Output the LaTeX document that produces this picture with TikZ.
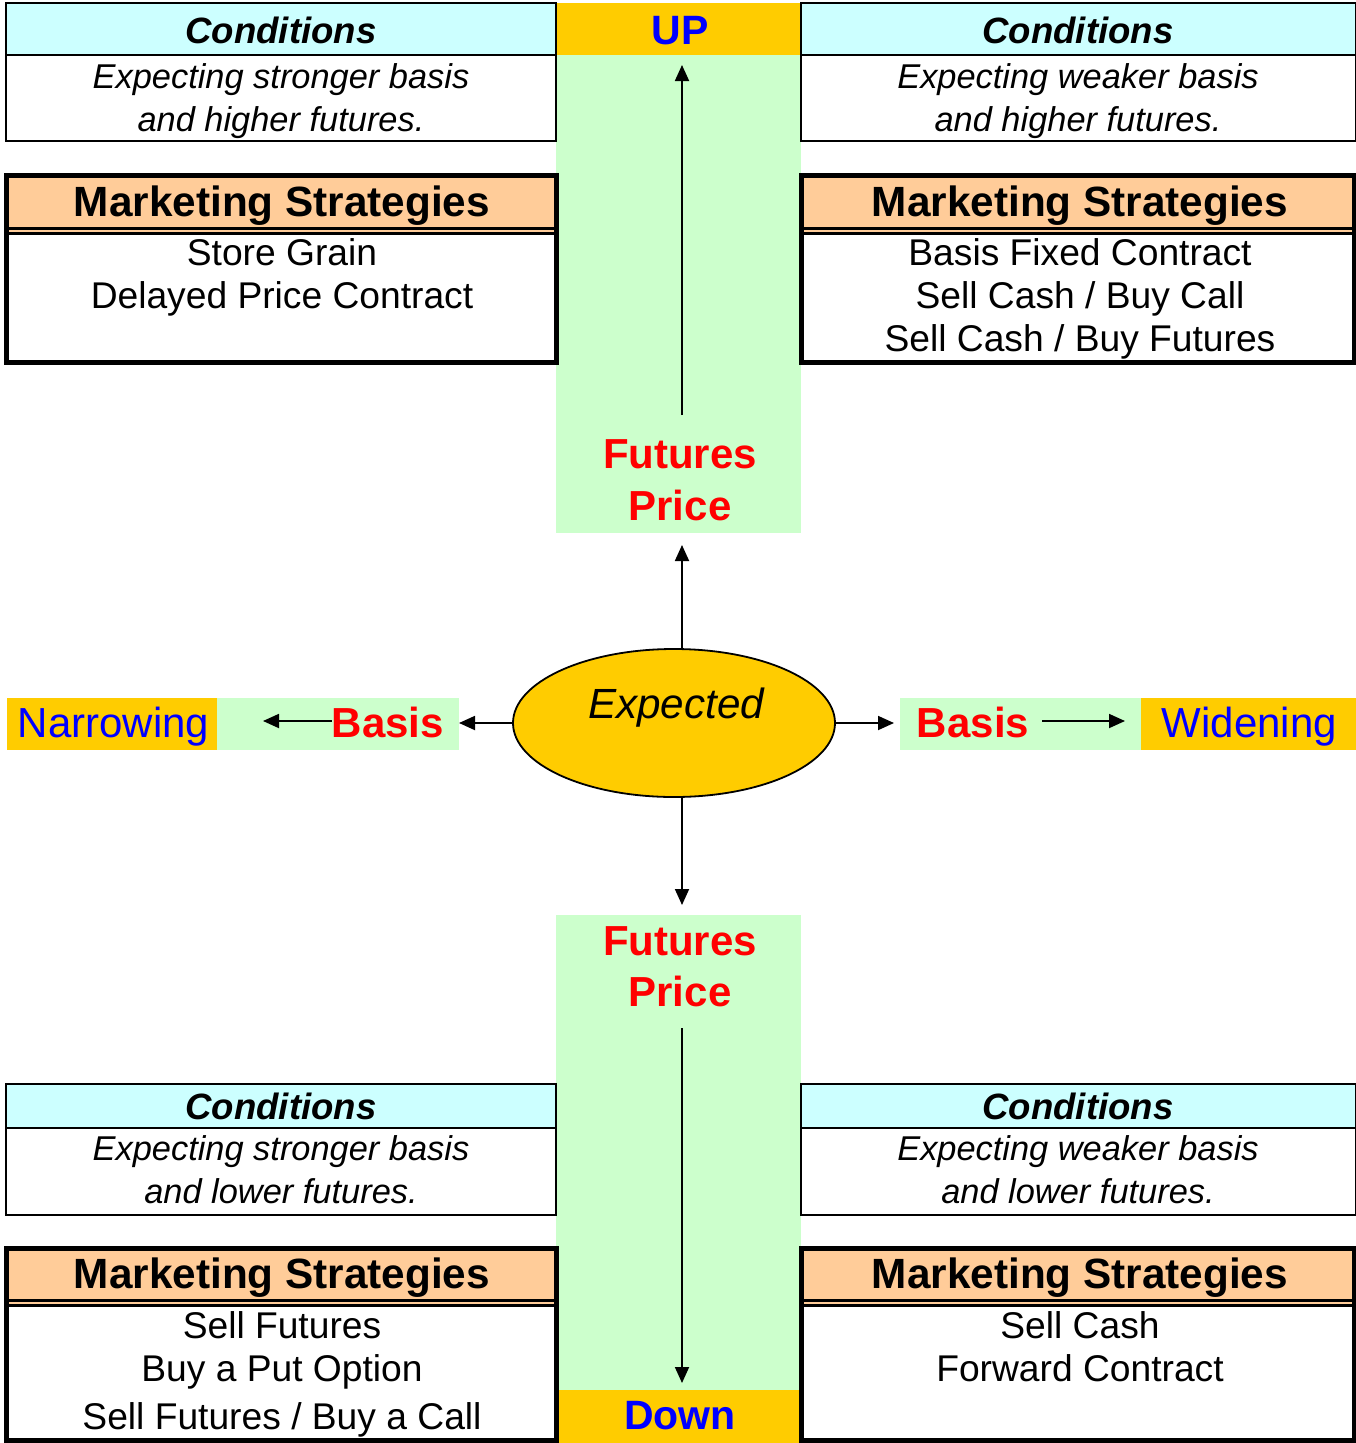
\documentclass[tikz,border=0pt]{standalone}
\usepackage{fontspec}
\setmainfont{Liberation Sans}
\usetikzlibrary{shapes.geometric,arrows.meta}
\definecolor{cy}{HTML}{CCFFFF}
\definecolor{pe}{HTML}{FFCC99}
\definecolor{yl}{HTML}{FFCC00}
\definecolor{gr}{HTML}{CCFFCC}
\definecolor{rd}{HTML}{FF0000}
\definecolor{bl}{HTML}{0000FF}
\newcommand\fs[1]{\fontsize{#1}{#1}\selectfont}
\begin{document}
\begin{tikzpicture}[x=1pt,y=-1pt,
  panel/.style={inner sep=0,outer sep=0,anchor=north west,draw=none},
  txt/.style={anchor=base,inner sep=0,outer sep=0},
  condhead/.style={txt,font=\fs{36.6}\bfseries\itshape},
  condtxt/.style={txt,font=\fs{34.4}\itshape},
  mkthead/.style={txt,font=\fs{42.3}\bfseries},
  mkttxt/.style={txt,font=\fs{37.2}},
  redtxt/.style={txt,font=\fs{42}\bfseries,text=rd},
  bluetxt/.style={txt,font=\fs{42}},
  bluetxtc/.style={bluetxt,text=bl},
  bluebold/.style={txt,font=\fs{41}\bfseries,text=bl},
  condframe/.style={line width=2.5},
  mktframe/.style={line width=5},
  arr/.style={line width=1.8,-{Triangle[length=16,width=14]}}]
\useasboundingbox (0,0) rectangle (1356,1443);
\fill[white] (0,0) rectangle (1356,1443);

% ---- central green panels ----
\node[panel,fill=gr,minimum width=245,minimum height=530] (gT) at (556,3) {};
\node[panel,fill=yl,minimum width=245,minimum height=52] (upH) at (556,3) {};
\node[panel,fill=gr,minimum width=245,minimum height=528] (gB) at (556,915) {};
\node[panel,fill=yl,minimum width=245,minimum height=53] (dnH) at (556,1390) {};

% ---- side panels ----
\node[panel,fill=yl,minimum width=210,minimum height=52] (yL) at (7,698) {};
\node[panel,fill=gr,minimum width=242,minimum height=52] (gL) at (217,698) {};
\node[panel,fill=gr,minimum width=241,minimum height=52] (gR) at (900,698) {};
\node[panel,fill=yl,minimum width=215,minimum height=52] (yR) at (1141,698) {};

% ---- conditions boxes ----
\foreach \xa/\xb/\ya/\yh/\yb in {6/556/3/55/141, 801/1356/3/55/141, 6/556/1084/1128/1215, 801/1356/1084/1128/1215}{
  \fill[white] (\xa,\ya) rectangle (\xb,\yb);
  \fill[cy] (\xa,\ya) rectangle (\xb,\yh);
  \draw[condframe] (\xa,\yh) -- (\xb,\yh);
  \draw[condframe] (\xa,\ya) rectangle (\xb,\yb);
}
% ---- marketing boxes ----
\foreach \xa/\xb/\ya/\yh/\yb in {6/556/175/228/362, 801/1354/175/228/362, 6/556/1248/1300/1440, 801/1354/1248/1300/1440}{
  \fill[white] (\xa,\ya) rectangle (\xb,\yb);
  \fill[pe] (\xa,\ya) rectangle (\xb,\yh+5);
  \draw[line width=3] (\xa,\yh) -- (\xb,\yh);
  \draw[line width=3] (\xa,\yh+5.5) -- (\xb,\yh+5.5);
  \draw[mktframe] (\xa,\ya) rectangle (\xb,\yb);
}

% ---- texts: top-left ----
\node[condhead] (c1h) at (281,43) {Conditions};
\node[condtxt] (c1a) at (281,88) {Expecting stronger basis};
\node[condtxt] (c1b) at (281,131) {and higher futures.};
\node[mkthead] (m1h) at (282,216) {Marketing Strategies};
\node[mkttxt] (m1a) at (282,265) {Store Grain};
\node[mkttxt] (m1b) at (282,308) {Delayed Price Contract};
% ---- top-right ----
\node[condhead] (c2h) at (1078,43) {Conditions};
\node[condtxt] (c2a) at (1078,88) {Expecting weaker basis};
\node[condtxt] (c2b) at (1078,131) {and higher futures.};
\node[mkthead] (m2h) at (1080,216) {Marketing Strategies};
\node[mkttxt] (m2a) at (1080,265) {Basis Fixed Contract};
\node[mkttxt] (m2b) at (1080,308) {Sell Cash / Buy Call};
\node[mkttxt] (m2c) at (1080,351) {Sell Cash / Buy Futures};
% ---- bottom-left ----
\node[condhead] (c3h) at (281,1119) {Conditions};
\node[condtxt] (c3a) at (281,1160) {Expecting stronger basis};
\node[condtxt] (c3b) at (281,1203) {and lower futures.};
\node[mkthead] (m3h) at (282,1288) {Marketing Strategies};
\node[mkttxt] (m3a) at (282,1338) {Sell Futures};
\node[mkttxt] (m3b) at (282,1381) {Buy a Put Option};
\node[mkttxt] (m3c) at (282,1429) {Sell Futures / Buy a Call};
% ---- bottom-right ----
\node[condhead] (c4h) at (1078,1119) {Conditions};
\node[condtxt] (c4a) at (1078,1160) {Expecting weaker basis};
\node[condtxt] (c4b) at (1078,1203) {and lower futures.};
\node[mkthead] (m4h) at (1080,1288) {Marketing Strategies};
\node[mkttxt] (m4a) at (1080,1338) {Sell Cash};
\node[mkttxt] (m4b) at (1080,1381) {Forward Contract};

% ---- centre column texts ----
\node[bluebold] (up) at (680,44) {UP};
\node[redtxt] (ftA) at (680,468) {Futures};
\node[redtxt] (ftB) at (680,520) {Price};
\node[redtxt] (fbA) at (680,955) {Futures};
\node[redtxt] (fbB) at (680,1006) {Price};
\node[bluebold] (down) at (680,1429) {Down};

% ---- side texts ----
\node[bluetxtc] (narrow) at (113.5,737) {Narrowing};
\node[redtxt] (basL) at (388,737) {Basis};
\node[redtxt] (basR) at (973,737) {Basis};
\node[bluetxtc] (widen) at (1249.5,737) {Widening};

% ---- ellipse ----
\node[ellipse,draw,line width=1.8,fill=yl,minimum width=322,minimum height=148,inner sep=0] (e) at (674,723) {};
\node[txt,font=\fs{42.2}\itshape] (exp) at (676,718) {Expected};

% ---- coordinates for arrow ends ----
\coordinate (upTip) at (682,545);
\coordinate (dnTip) at (682,905);
\coordinate (tIn1) at (682,415);
\coordinate (tIn2) at (682,65);
\coordinate (bIn1) at (682,1028);
\coordinate (bIn2) at (682,1383);
\coordinate (lTip) at (263,721);
\coordinate (rStart) at (1042,721);
\coordinate (rTip) at (1125,721);

% ---- arrows ----
\draw[arr] (e.north -| upTip) -- (upTip);
\draw[arr] (e.south -| dnTip) -- (dnTip);
\draw[arr] (tIn1) -- (tIn2);
\draw[arr] (bIn1) -- (bIn2);
\draw[arr] (e.west) -- (gL.east |- e.west);
\draw[arr,shorten >=6] (e.east) -- (gR.west |- e.east);
\draw[arr] (basL.west |- lTip) -- (lTip);
\draw[arr] (rStart) -- (rTip);
\end{tikzpicture}
\end{document}
